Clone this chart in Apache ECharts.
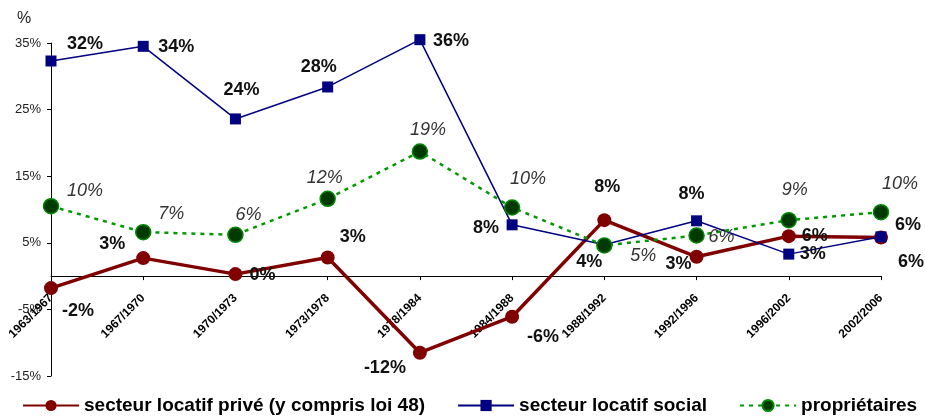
<!DOCTYPE html>
<html>
<head>
<meta charset="utf-8">
<script src="https://cdn.jsdelivr.net/npm/echarts@6/dist/echarts.min.js"></script>
<style>html,body{margin:0;padding:0;background:#fff}#c{width:925px;height:417px}</style>
</head>
<body>
<div id="c"></div>
<script>
const categories = ['1963/1967','1967/1970','1970/1973','1973/1978','1978/1984','1984/1988','1988/1992','1992/1996','1996/2002','2002/2006'];
const prive = [-1.8, 2.7, 0.3, 2.8, -11.5, -6.1, 8.4, 2.9, 6.0, 5.8];
const priveLabels = ['-2%','3%','0%','3%','-12%','-6%','8%','3%','6%','6%'];
const social = [32.3, 34.5, 23.6, 28.4, 35.5, 7.7, 4.7, 8.3, 3.3, 5.9];
const socialLabels = ['32%','34%','24%','28%','36%','8%','4%','8%','3%','6%'];
const proprio = [10.5, 6.6, 6.2, 11.6, 18.7, 10.3, 4.6, 6.1, 8.4, 9.6];
const proprioLabels = ['10%','7%','6%','12%','19%','10%','5%','6%','9%','10%'];
const seriesNames = ['secteur locatif privé (y compris loi 48)','secteur locatif social','propriétaires'];
const yMin = -15, yMax = 35, yStep = 10;

// label placement (layout only)
const priveOff = [[27,23],[-31,-14],[27,1],[25,-20],[-35,15],[31,20],[3,-33],[-18,7],[26,0],[30,25]];
const socialOff = [[34,-17],[33,1],[6,-29],[-9,-20],[31,1],[-26,3],[-15,17],[-5,-27],[24,0],[27,-12]];
const proprioOff = [[34,-15],[28,-18],[13,-20],[-3,-21],[8,-22],[16,-29],[39,11],[25,2],[6,-30],[19,-28]];

const FONT = 'Liberation Sans, Arial, sans-serif';
function build(vals, labels, offs, labelStyle){
  return vals.map((v,i)=>({value:v, label:Object.assign({show:true, position:'inside', offset:offs[i], formatter:labels[i], align:'center', verticalAlign:'middle'}, labelStyle)}));
}
const boldLbl = {fontFamily:FONT, fontSize:18, fontWeight:'bold', color:'#111'};
const itLbl = {fontFamily:FONT, fontSize:18, fontStyle:'italic', fontWeight:'normal', color:'#333'};

const gridTop = 43, gridBottom = 41, H = 417;
const plotH = H - gridTop - gridBottom;
const zeroOffset = -plotH * (0 - yMin) / (yMax - yMin);

const chart = echarts.init(document.getElementById('c'), null, {renderer:'canvas'});
chart.setOption({
  animation:false,
  backgroundColor:'#fff',
  grid:{left:51, right:44, top:gridTop, bottom:gridBottom, containLabel:false, outerBoundsMode:'none'},
  graphic:[{type:'text', left:17, top:11, style:{text:'%', font:'16px '+FONT, fill:'#222'}}],
  xAxis:{type:'category', data:categories, boundaryGap:false, offset:zeroOffset,
    axisLine:{onZero:false, lineStyle:{color:'#000', width:1}},
    axisTick:{show:true, length:4, lineStyle:{color:'#000'}},
    axisLabel:{rotate:45, interval:0, margin:20, fontFamily:FONT, fontSize:12, fontWeight:'bold', color:'#000'},
    splitLine:{show:false}},
  yAxis:{type:'value', min:yMin, max:yMax, interval:yStep,
    axisLine:{show:true, lineStyle:{color:'#000'}},
    axisTick:{show:true, length:4, lineStyle:{color:'#000'}},
    axisLabel:{formatter:'{value}%', fontFamily:FONT, fontSize:13, color:'#222', margin:10},
    splitLine:{show:false}},
  legend:{left:17, top:391, itemWidth:56, itemHeight:14, itemGap:32, width:905,
    textStyle:{fontFamily:FONT, fontSize:19, fontWeight:'bold', color:'#000'},
    data:seriesNames},
  series:[
    {name:seriesNames[0], type:'line', data:build(prive, priveLabels, priveOff, boldLbl), clip:false,
     symbol:'circle', symbolSize:14, lineStyle:{color:'#800000', width:3.5},
     itemStyle:{color:'#800000'}, z:2},
    {name:seriesNames[1], type:'line', data:build(social, socialLabels, socialOff, boldLbl), clip:false,
     symbol:'rect', symbolSize:11, lineStyle:{color:'#000080', width:1.5},
     itemStyle:{color:'#000080'}, z:3},
    {name:seriesNames[2], type:'line', data:build(proprio, proprioLabels, proprioOff, itLbl), clip:false,
     symbol:'circle', symbolSize:15, lineStyle:{color:'#009900', width:2.5, type:[4,5]},
     itemStyle:{color:'#003a00', borderColor:'#008800', borderWidth:1.5}, z:4}
  ]
});
</script>
</body>
</html>
